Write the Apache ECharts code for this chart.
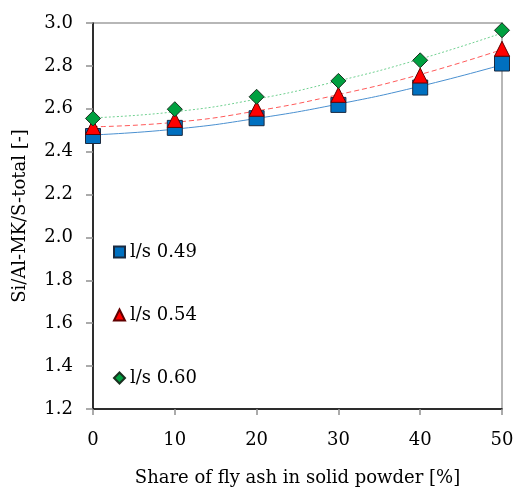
<!DOCTYPE html>
<html><head><meta charset="utf-8">
<script src="https://cdn.jsdelivr.net/npm/echarts@6/dist/echarts.min.js"></script>
<style>html,body{margin:0;padding:0;background:#fff}#c{width:514px;height:488px}</style>
</head><body><div id="c"></div>
<script>
const xValues = [0, 10, 20, 30, 40, 50];
const seriesNames = ['l/s 0.49', 'l/s 0.54', 'l/s 0.60'];
const s049 = [2.473, 2.511, 2.556, 2.618, 2.699, 2.811];
const s054 = [2.515, 2.548, 2.600, 2.665, 2.755, 2.880];
const s060 = [2.555, 2.598, 2.656, 2.730, 2.826, 2.966];
const trend049 = [2.478, 2.505, 2.555, 2.622, 2.705, 2.805];
const trend054 = [2.516, 2.537, 2.590, 2.666, 2.760, 2.876];
const trend060 = [2.558, 2.586, 2.645, 2.730, 2.832, 2.953];

const font = 'DejaVu Serif';
const fs = 18;
const pairs = a => xValues.map((x, i) => [x, a[i]]);
const chart = echarts.init(document.getElementById('c'), null, {renderer: 'canvas'});
const trendLine = (data, color, type) => ({
  type: 'line', data: pairs(data), smooth: true, symbol: 'none', silent: true,
  lineStyle: {color: color, width: 1, type: type}, z: 1
});
const marks = (name, data, symbol, size, color, border) => ({
  name: name, type: 'line', data: pairs(data), symbol: symbol, symbolSize: size,
  lineStyle: {width: 0, opacity: 0},
  itemStyle: {color: color, borderColor: border, borderWidth: 1, opacity: 1}, z: 3
});
chart.setOption({
  animation: false,
  grid: {left: 93, right: 12, top: 23, bottom: 79, show: true, borderColor: '#a0a0a0', borderWidth: 1.5,
    containLabel: false, outerBoundsMode: 'none'},
  legend: {
    orient: 'vertical', left: 108, top: 238, itemGap: 45,
    itemWidth: 11, itemHeight: 11,
    textStyle: {fontFamily: font, fontSize: fs, color: '#000'},
    data: [
      {name: seriesNames[0], icon: 'rect'},
      {name: seriesNames[1], icon: 'triangle'},
      {name: seriesNames[2], icon: 'diamond'}
    ]
  },
  xAxis: {
    type: 'value', min: 0, max: 50, interval: 10,
    name: 'Share of fly ash in solid powder [%]', nameLocation: 'middle', nameGap: 60,
    nameTextStyle: {fontFamily: font, fontSize: fs, color: '#000'},
    axisLine: {lineStyle: {color: '#000', width: 1.5}},
    axisTick: {show: true, length: 6, lineStyle: {color: '#909090', width: 1.5}},
    axisLabel: {fontFamily: font, fontSize: fs, color: '#000', margin: 22},
    splitLine: {show: false}
  },
  yAxis: {
    type: 'value', min: 1.2, max: 3.0, interval: 0.2,
    name: 'Si/Al-MK/S-total [-]', nameLocation: 'middle', nameGap: 64,
    nameTextStyle: {fontFamily: font, fontSize: fs, color: '#000'},
    axisLine: {show: true, lineStyle: {color: '#000', width: 1.5}},
    axisTick: {show: true, length: 7, lineStyle: {color: '#909090', width: 1.5}},
    axisLabel: {fontFamily: font, fontSize: fs, color: '#000', margin: 20,
      formatter: v => v.toFixed(1)},
    splitLine: {show: false}
  },
  series: [
    trendLine(trend049, '#4a90d0', 'solid'),
    trendLine(trend054, '#ff5a5a', [5, 3]),
    trendLine(trend060, '#70d090', [2, 2]),
    marks(seriesNames[0], s049, 'rect', 15, '#0070c0', '#1a2a40'),
    marks(seriesNames[1], s054, 'triangle', 15, '#ff0000', '#600000'),
    marks(seriesNames[2], s060, 'diamond', 15, '#00a040', '#1a3020')
  ]
});
</script></body></html>
